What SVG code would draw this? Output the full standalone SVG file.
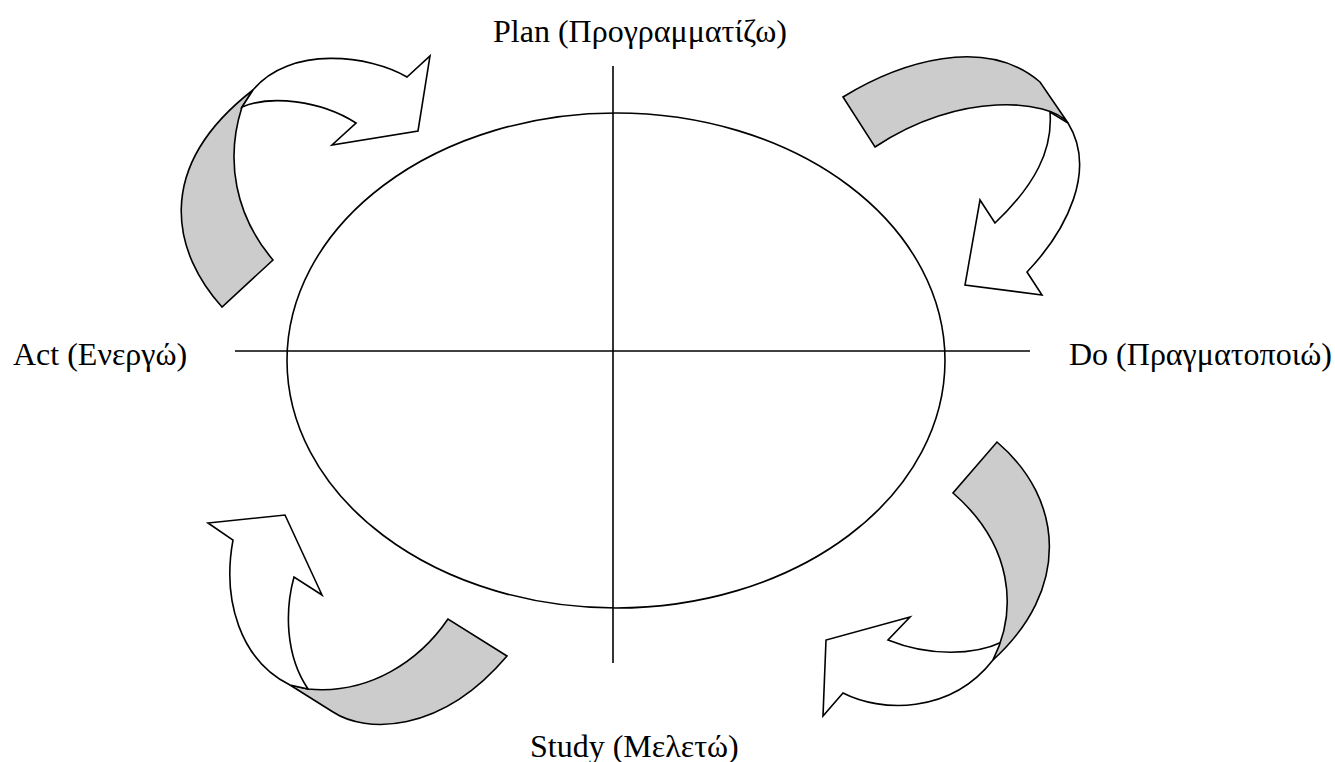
<svg xmlns="http://www.w3.org/2000/svg" width="1335" height="762" viewBox="0 0 1335 762">
<style>
.ln{stroke:#000;stroke-width:1.6;fill:none}
.w{fill:#fff;stroke:#000;stroke-width:1.6;stroke-linejoin:miter}
.g{fill:#cccccc;stroke:#000;stroke-width:1.6;stroke-linejoin:miter}
.t{font-family:"Liberation Serif","Times New Roman",serif;font-size:32px;fill:#000}
</style>
<rect width="1335" height="762" fill="#fff"/>
<g id="cycle">
<ellipse class="ln" cx="616" cy="360.5" rx="329" ry="247.5"/>
</g>
<g id="connectors">
<line class="ln" x1="613" y1="66" x2="613" y2="663"/>
<line class="ln" x1="235" y1="351" x2="1030" y2="351"/>
</g>
<g id="arrow-act-plan">
<path class="g" d="M222,307 C175,255 150,170 253,90 L242,107 C225,160 235,215 273,260 Z"/>
<path class="w" d="M242,107 C270,95 320,100 356,123 L332,145 L418,131 L430,56 L407,77 C370,55 290,45 253,90 Z"/>
</g>
<g id="arrow-plan-do">
<path class="g" d="M843,97 C900,62 985,35 1040,82 L1068,123 C1050,100 960,90 875,147 Z"/>
<path class="w" d="M1050,112 C1053,150 1035,185 995,223 L980,200 L965,285 L1042,295 L1027,272 C1067,230 1097,170 1068,123 Z"/>
</g>
<g id="arrow-do-study">
<path class="w" d="M1002,642 C975,655 930,657 888,640 L910,617 L826,640 L823,716 L843,693 C880,712 950,715 993,660 Z"/>
<path class="g" d="M997,442 C1065,500 1070,590 993,660 C1018,610 1013,545 953,493 Z"/>
</g>
<g id="arrow-study-act">
<path class="g" d="M448,619 C420,660 370,695 308,689 L290,685 L333,712 C365,733 440,735 507,656 Z"/>
<path class="w" d="M290,685 C240,660 222,600 233,540 L208,523 L285,515 L322,595 L294,577 C285,610 285,655 308,689 Z"/>
</g>
<g id="label-plan"><text class="t" x="493" y="42">Plan (Προγραμματίζω)</text></g>
<g id="label-do"><text class="t" x="1069" y="365">Do (Πραγματοποιώ)</text></g>
<g id="label-study"><text class="t" x="530" y="757">Study (Μελετώ)</text></g>
<g id="label-act"><text class="t" x="13" y="365">Act (Ενεργώ)</text></g>
</svg>
